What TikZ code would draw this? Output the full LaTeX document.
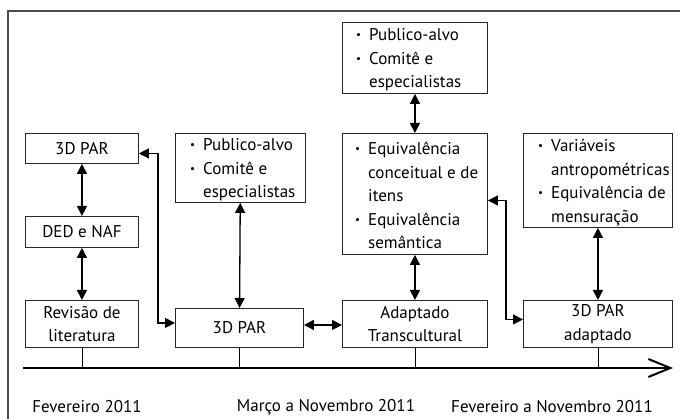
\documentclass[tikz,border=0pt]{standalone}
\usepackage{fontspec}
\setmainfont{PT Sans}
\usetikzlibrary{arrows.meta}
\newcommand{\bul}{\llap{\raisebox{2pt}{\fontsize{11}{11}\selectfont\textbullet}\hspace{8pt}}}
\begin{document}
\begin{tikzpicture}[x=1pt,y=-1pt,
  box/.style={draw=black!85, line width=0.9pt, anchor=north west, inner sep=0pt, align=center,
    font=\fontsize{17}{23.5}\selectfont},
  txt/.style={inner sep=0pt, align=left, anchor=west, font=\fontsize{17}{23.5}\selectfont},
  lbl/.style={inner sep=0pt, font=\fontsize{17}{19}\selectfont},
  dbl/.style={line width=1.3pt, {Triangle[length=10pt,width=10pt]}-{Triangle[length=10pt,width=10pt]}},
  tick/.style={line width=0.8pt}
]
\useasboundingbox (0,0) rectangle (680,419);
% frame
\draw[black!70, line width=1.4pt] (8,419) -- (8,11) -- (680,11);

% boxes
\node[box, minimum width=113pt, minimum height=30pt] (A) at (25,133) {3D PAR};
\node[box, minimum width=113pt, minimum height=31pt] (B) at (25,216) {DED e NAF};
\node[box, minimum width=113pt, minimum height=47pt] (C) at (25,300) {Revisão de\\literatura};
\node[box, minimum width=130pt, minimum height=69pt] (D) at (175,133) {};
\node[txt] (Dt) at ([xshift=28pt,yshift=-2pt]D.west) {\bul Publico-alvo\\ \bul Comitê e\\ especialistas};
\node[box, minimum width=128pt, minimum height=39pt] (E) at (175,308) {3D PAR};
\node[box, minimum width=145pt, minimum height=71pt] (F) at (342,22) {};
\node[txt] (Ft) at ([xshift=27pt,yshift=-2pt]F.west) {\bul Publico-alvo\\ \bul Comitê e\\ especialistas};
\node[box, minimum width=145pt, minimum height=121pt] (G) at (342,133) {};
\node[txt] (Gt) at ([xshift=26pt,yshift=-1.5pt]G.west) {\bul Equivalência\\ conceitual e de\\ itens\\ \bul Equivalência\\ semântica};
\node[box, minimum width=145pt, minimum height=47pt] (H) at (342,300) {Adaptado\\Transcultural};
\node[box, minimum width=149pt, minimum height=94pt] (I) at (523,133) {};
\node[txt] (It) at ([xshift=28pt,yshift=-2pt]I.west) {\bul Variáveis\\ antropométricas\\ \bul Equivalência de\\ mensuração};
\node[box, minimum width=149pt, minimum height=47pt] (J) at (523,300) {3D PAR\\adaptado};

% vertical connectors
\draw[dbl] (A) -- (B);
\draw[dbl] (B) -- (C);
\draw[dbl] (D) -- (E);
\draw[dbl] (F) -- (G);
\draw[dbl] (G) -- (H);
\draw[dbl] (I) -- (J);
% horizontal / elbow connectors
\draw[dbl] ([yshift=3pt]E.east) -- ([yshift=3pt]E.east -| H.west);
\draw[dbl] ([yshift=-5pt]A.east) -- ++(19,0) |- ([yshift=5pt]E.west);
\draw[dbl] ([yshift=-6.5pt]G.east) -- ++(18,0) |- ([yshift=4.5pt]J.west);

% timeline
\coordinate (t0) at (23,368);
\coordinate (t1) at (673,368);
\draw[line width=2pt, -{Straight Barb[length=22pt,width=18pt,line width=2pt]}] (t0) -- (t1);
\draw[tick] (C.south) -- (C.south |- t0);
\draw[tick] (E.south) -- (E.south |- t0);
\draw[tick] (H.south) -- (H.south |- t0);
\draw[tick] (J.south) -- (J.south |- t0);

% period labels
\node[lbl] (L1) at (87,407) {Fevereiro 2011};
\node[lbl] (L2) at (326,407) {Março a Novembro 2011};
\node[lbl] (L3) at (552,407) {Fevereiro a Novembro 2011};
\end{tikzpicture}
\end{document}
